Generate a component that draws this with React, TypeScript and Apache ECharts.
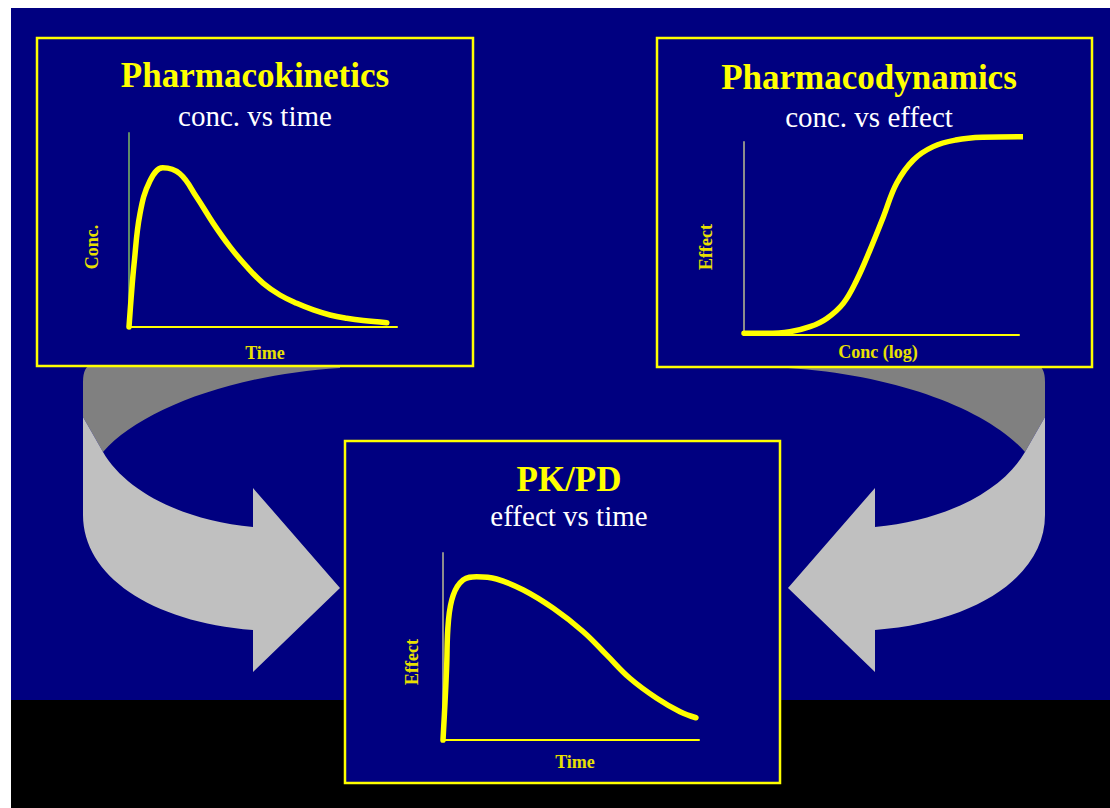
import React, { useEffect, useRef } from "react";
import * as echarts from "echarts";

// ---- Data (arbitrary units 0-100 on each axis) ----
const pkTime = [0, 0.8, 1.9, 4.1, 7.8, 12.6, 19.0, 25.2, 31.5, 37.7, 43.9, 50.1, 56.3, 62.6, 68.8, 75.0, 81.2, 87.4, 96.2];
const pkConc = [0, 15, 32.6, 58.4, 75.3, 82.1, 79.0, 67.0, 53.3, 41.3, 31.1, 22.5, 16.5, 12.2, 8.8, 6.2, 4.5, 3.3, 2.2];

const pdConc = [0, 8.1, 16.7, 24.0, 30.1, 36.1, 41.0, 45.8, 50.7, 55.5, 61.6, 68.8, 77.0, 86.7, 103.4];
const pdEffect = [0.9, 0.9, 1.7, 4.3, 8.6, 16.4, 28.5, 44.0, 61.3, 78.6, 90.7, 97.6, 101.0, 102.4, 102.7];

const pkpdTime = [0, 0.8, 1.4, 2.1, 4.0, 7.9, 13.1, 20.9, 31.4, 43.1, 54.8, 63.9, 73.0, 83.5, 92.6, 98.8];
const pkpdEffect = [0, 20.5, 38.3, 63.3, 77.5, 85.6, 87.3, 86.1, 80.2, 70.4, 57.9, 45.5, 33.0, 22.3, 15.1, 11.9];

const panelTitles = ["Pharmacokinetics", "Pharmacodynamics", "PK/PD"];
const panelSubtitles = ["conc. vs time", "conc. vs effect", "effect vs time"];
const xAxisNames = ["Time", "Conc (log)", "Time"];
const yAxisNames = ["Conc.", "Effect", "Effect"];

const NAVY = "#000080";
const YELLOW = "#ffff00";
const SERIF = "'Liberation Serif', 'Times New Roman', serif";

// arrow shapes (decorative)
const ARROW_LIGHT =
  "M 83 417 L 83 515 C 83 575 150 622 253 630 L 253 672 L 340 588 L 253 488 L 253 527 C 180 520 125 490 103 452 Z";
const ARROW_DARK =
  "M 83 417 L 103 452 C 140 410 230 375 340 368 L 340 365 L 92 365 Q 83 366 83 382 Z";

export default function App() {
  const ref = useRef<HTMLDivElement>(null);
  useEffect(() => {
    if (!ref.current) return;
    echarts.graphic.registerShape("arrowLight", echarts.graphic.extendPath(ARROW_LIGHT, {}));
    echarts.graphic.registerShape("arrowDark", echarts.graphic.extendPath(ARROW_DARK, {}));
    const chart = echarts.init(ref.current, null, { renderer: "svg" });

    const grids = [
      { left: 129, top: 133, width: 268, height: 194 },
      { left: 744, top: 142, width: 275, height: 193 },
      { left: 443, top: 553, width: 256, height: 187 },
    ];
    const yLineColors = ["#5f8a6a", "#8c8c8c", "#8c8c8c"];
    const panels = [
      { x: 37, y: 38, w: 436, h: 328 },
      { x: 657, y: 38, w: 435, h: 329 },
      { x: 345, y: 441, w: 435, h: 342 },
    ];
    const titlePos = [
      { x: 255, ty: 75, sy: 116 },
      { x: 869, ty: 77, sy: 117 },
      { x: 569, ty: 479, sy: 516 },
    ];
    const xNamePos = [
      { x: 265, y: 353 },
      { x: 878, y: 352 },
      { x: 575, y: 762 },
    ];
    const yNamePos = [
      { x: 92, y: 247 },
      { x: 706, y: 247 },
      { x: 412, y: 662 },
    ];

    const elements: any[] = [
      { type: "rect", z: -20, shape: { x: 11, y: 8, width: 1099, height: 692 }, style: { fill: NAVY } },
      { type: "rect", z: -20, shape: { x: 11, y: 700, width: 1099, height: 108 }, style: { fill: "#000000" } },
      { type: "arrowDark", z: -15, x: 0, y: 0, style: { fill: "#808080" } },
      { type: "arrowLight", z: -15, x: 0, y: 0, style: { fill: "#c0c0c0" } },
      { type: "arrowDark", z: -15, x: 1128, y: 0, scaleX: -1, style: { fill: "#808080" } },
      { type: "arrowLight", z: -15, x: 1128, y: 0, scaleX: -1, style: { fill: "#c0c0c0" } },
    ];
    panels.forEach((p) => {
      elements.push({
        type: "rect",
        z: -10,
        shape: { x: p.x, y: p.y, width: p.w, height: p.h },
        style: { fill: NAVY, stroke: YELLOW, lineWidth: 2.5 },
      });
    });
    for (let i = 0; i < 3; i++) {
      elements.push({
        type: "text",
        z: 10,
        x: titlePos[i].x,
        y: titlePos[i].ty,
        style: {
          text: panelTitles[i],
          fill: YELLOW,
          font: `bold 35px ${SERIF}`,
          align: "center",
          verticalAlign: "middle",
        },
      });
      elements.push({
        type: "text",
        z: 10,
        x: titlePos[i].x,
        y: titlePos[i].sy,
        style: {
          text: panelSubtitles[i],
          fill: "#ffffff",
          font: `29px ${SERIF}`,
          align: "center",
          verticalAlign: "middle",
        },
      });
      elements.push({
        type: "text",
        z: 10,
        x: xNamePos[i].x,
        y: xNamePos[i].y,
        style: {
          text: xAxisNames[i],
          fill: "#e8e000",
          font: `bold 18px ${SERIF}`,
          align: "center",
          verticalAlign: "middle",
        },
      });
      elements.push({
        type: "text",
        z: 10,
        x: yNamePos[i].x,
        y: yNamePos[i].y,
        rotation: Math.PI / 2,
        style: {
          text: yAxisNames[i],
          fill: "#e8e000",
          font: `bold 18px ${SERIF}`,
          align: "center",
          verticalAlign: "middle",
        },
      });
    }

    const seriesData = [
      pkTime.map((t, i) => [t, pkConc[i]]),
      pdConc.map((c, i) => [c, pdEffect[i]]),
      pkpdTime.map((t, i) => [t, pkpdEffect[i]]),
    ];

    chart.setOption({
      animation: false,
      backgroundColor: "#ffffff",
      grid: grids.map((g) => ({ ...g, containLabel: false })),
      xAxis: grids.map((_, i) => ({
        gridIndex: i,
        type: "value",
        min: 0,
        max: 100,
        axisLine: { show: true, onZero: false, lineStyle: { color: YELLOW, width: 2 } },
        axisTick: { show: false },
        axisLabel: { show: false },
        splitLine: { show: false },
      })),
      yAxis: grids.map((_, i) => ({
        gridIndex: i,
        type: "value",
        min: 0,
        max: 100,
        axisLine: { show: true, onZero: false, lineStyle: { color: yLineColors[i], width: 2 } },
        axisTick: { show: false },
        axisLabel: { show: false },
        splitLine: { show: false },
      })),
      series: seriesData.map((d, i) => ({
        type: "line",
        xAxisIndex: i,
        yAxisIndex: i,
        data: d,
        smooth: 0.4,
        symbol: "none",
        clip: false,
        z: 5,
        lineStyle: { color: YELLOW, width: 5.5, cap: "round", join: "round" },
      })),
      graphic: { elements },
    });
    return () => chart.dispose();
  }, []);
  return (
    <div
      ref={ref}
      style={{ position: "absolute", left: 0, top: 0, width: 1110, height: 808 }}
    />
  );
}
